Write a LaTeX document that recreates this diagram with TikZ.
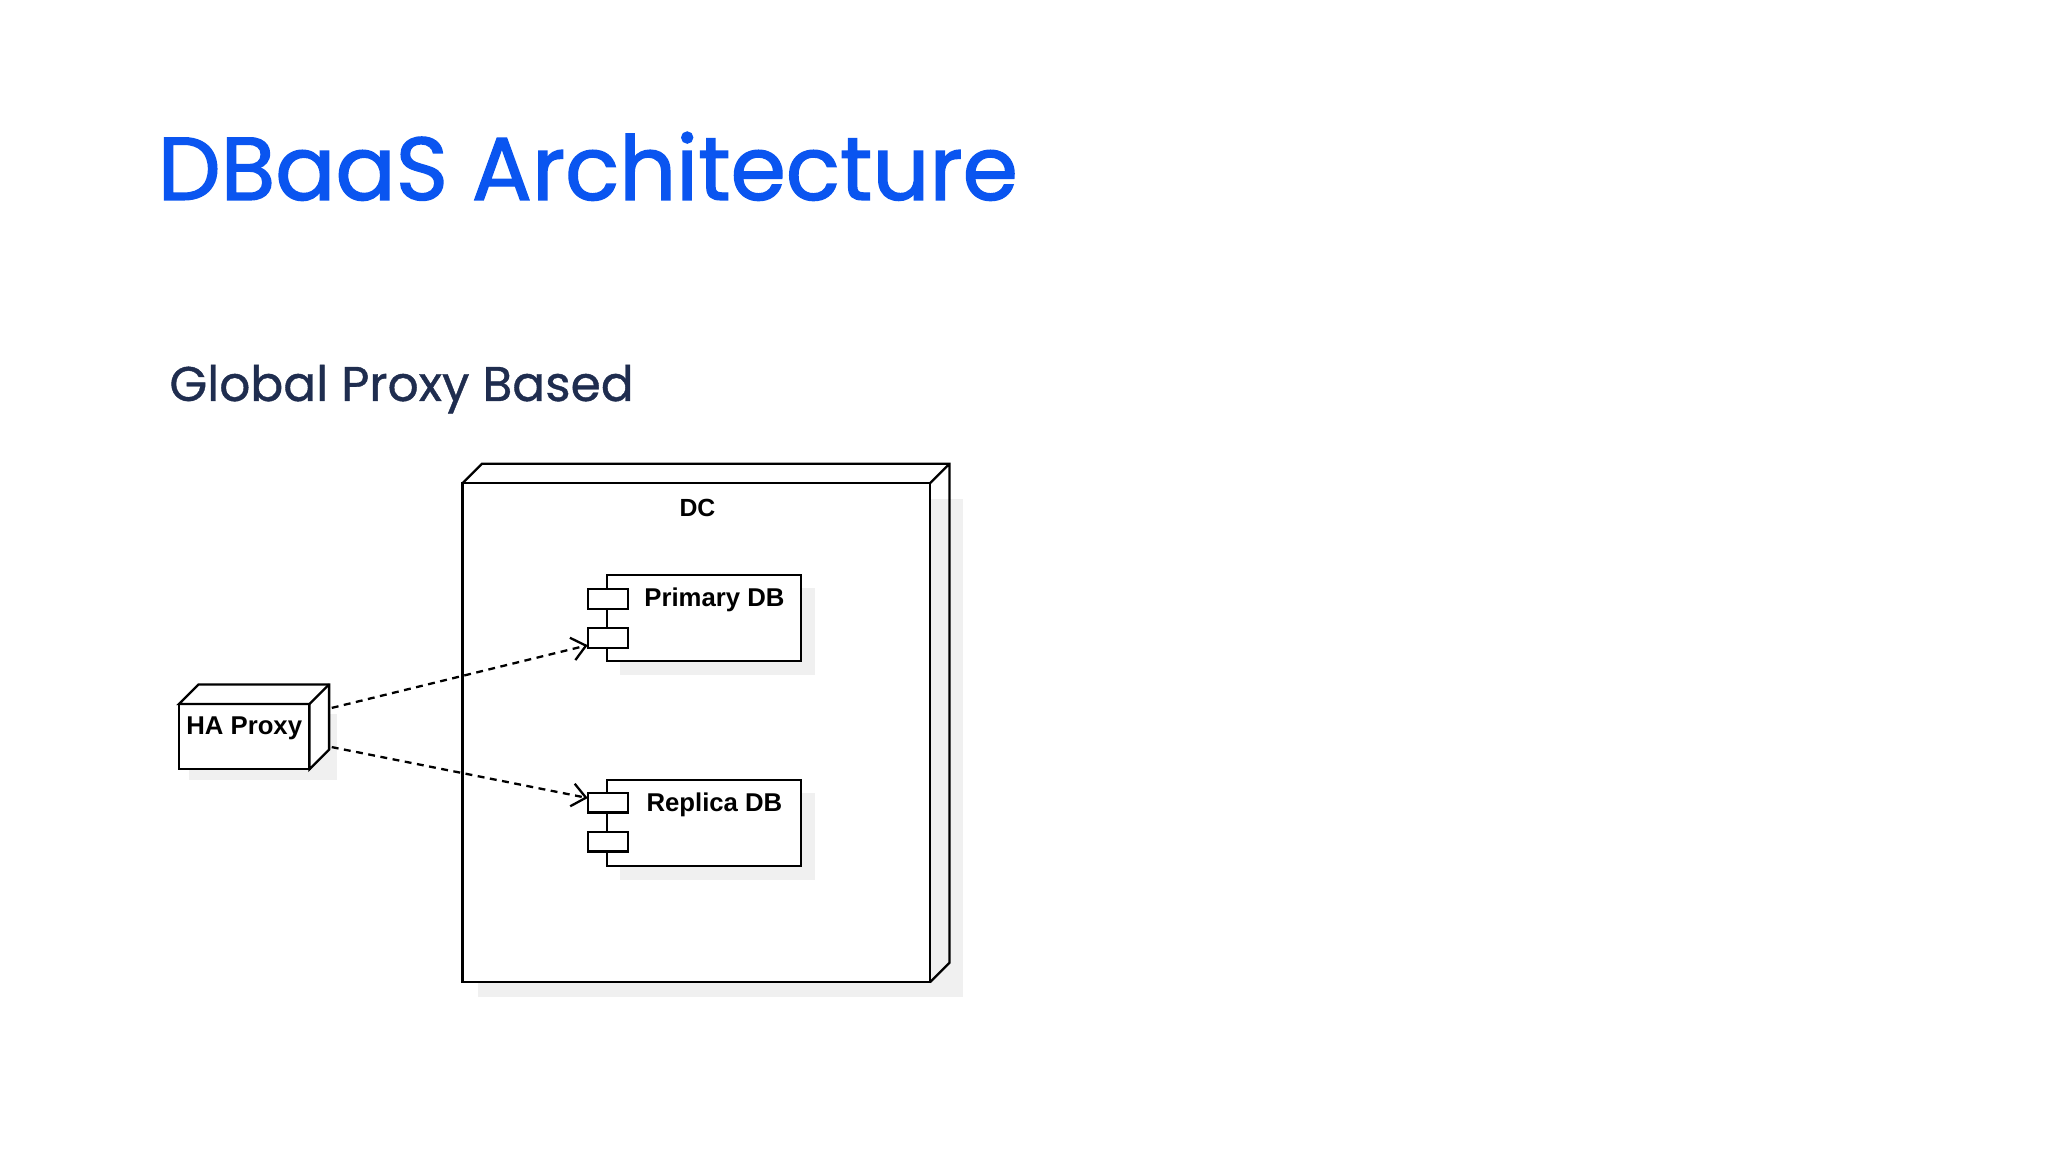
\documentclass[tikz,border=0pt]{standalone}
\usepackage{fontspec}
\setmainfont{Liberation Sans}
\newfontfamily\pop[FakeBold=1.6]{Poppins}
\newfontfamily\pops[FakeBold=0.8]{Poppins}
\usetikzlibrary{arrows.meta}
\begin{document}
\begin{tikzpicture}[x=0.01cm,y=-0.01cm,
  ln/.style={draw=black,line width=0.5pt},
  lbl/.style={font=\fontsize{5.6pt}{6pt}\selectfont\bfseries,inner sep=0},
  dep/.style={ln,dashed,dash pattern=on 1.5pt off 1.2pt,-{Straight Barb[length=3pt,width=5pt]}}]
\useasboundingbox (0,0) rectangle (1568,882);
\fill[white] (0,0) rectangle (1568,882);
\node[anchor=base west,inner sep=0,font=\pop\fontsize{19.4pt}{22pt}\selectfont] (title) at (120,153) {\color[HTML]{0A55F0}DBaaS Architecture};
\node[anchor=base west,inner sep=0,font=\pops\fontsize{10.6pt}{13pt}\selectfont] (sub) at (129,307) {\color[HTML]{1F2D4F}Global Proxy Based};
% DC
\fill[black!6] (366,382) rectangle (737,763);
\filldraw[ln,fill=white] (354,370) rectangle (712,752);
\draw[ln] (354,370) -- (369,355) -- (727,355) -- (727,737) -- (712,752) (712,370) -- (727,355);
\node[lbl,font=\fontsize{5.4pt}{6pt}\selectfont\bfseries] (dc) at (534,389) {DC};
% Primary
\fill[black!6] (475,450) rectangle (624,517);
\filldraw[ln,fill=white] (465,440) rectangle (613,506);
\filldraw[ln,fill=white] (450,451) rectangle (481,466);
\filldraw[ln,fill=white] (450,481) rectangle (481,496);
\node[lbl] (pdb) at (547,459) {Primary DB};
\coordinate (pin) at (450,494);
% Replica
\fill[black!6] (475,607) rectangle (624,674);
\filldraw[ln,fill=white] (465,597) rectangle (613,663);
\filldraw[ln,fill=white] (450,607) rectangle (481,622);
\filldraw[ln,fill=white] (450,637) rectangle (481,652);
\node[lbl] (rdb) at (547,616) {Replica DB};
\coordinate (rin) at (450,611);
% HA proxy
\fill[black!6] (145,547) rectangle (258,597);
\filldraw[ln,fill=white] (137,539) rectangle (237,589);
\filldraw[ln,fill=white] (137,539) -- (152,524) -- (252,524) -- (252,574) -- (237,589) -- (237,539) -- cycle;
\draw[ln] (237,539) -- (252,524);
\node[lbl] (ha) at (187,558) {HA Proxy};
\coordinate (ho1) at (254,542);
\coordinate (ho2) at (254,572);
\draw[dep] (ho1) -- (pin);
\draw[dep] (ho2) -- (rin);
\end{tikzpicture}
\end{document}
